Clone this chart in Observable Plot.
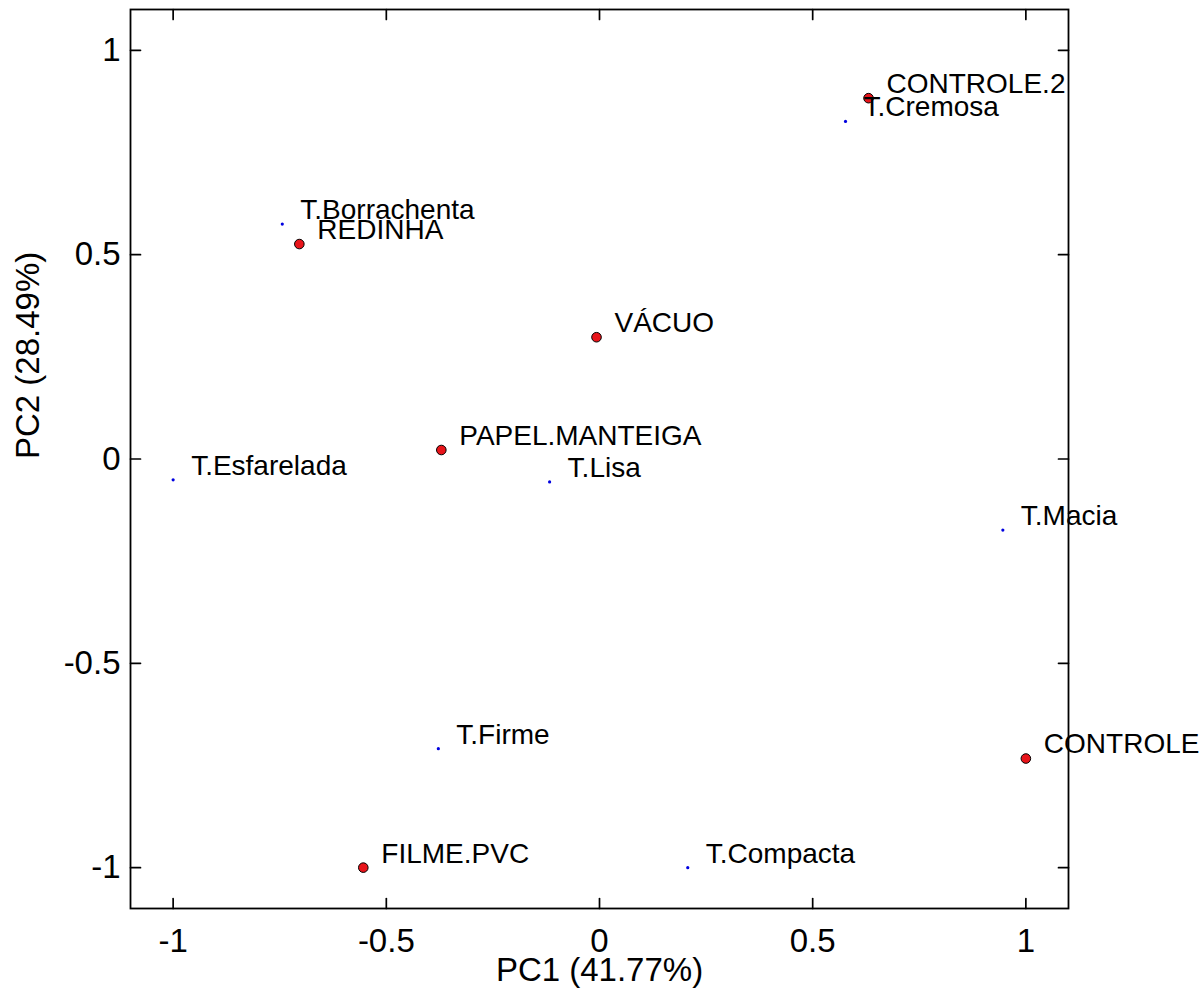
<!DOCTYPE html>
<html>
<head>
<meta charset="utf-8">
<script src="https://cdn.jsdelivr.net/npm/d3@7"></script>
<script src="https://cdn.jsdelivr.net/npm/@observablehq/plot@0.6"></script>
<style>
  html, body { margin: 0; padding: 0; background: #fff; overflow: hidden; }
  svg { overflow: hidden; }
</style>
</head>
<body>
<div id="chart"></div>
<script>
// Samples (red points)
const sampleNames = ["CONTROLE.2", "REDINHA", "VÁCUO", "PAPEL.MANTEIGA", "FILME.PVC", "CONTROLE"];
const sampleX = [0.631, -0.704, -0.007, -0.371, -0.554, 1.0];
const sampleY = [0.883, 0.526, 0.298, 0.022, -1.0, -0.733];

// Attributes (small blue points)
const attrNames = ["T.Cremosa", "T.Borrachenta", "T.Esfarelada", "T.Lisa", "T.Macia", "T.Firme", "T.Compacta"];
const attrX = [0.577, -0.744, -1.0, -0.117, 0.946, -0.378, 0.207];
const attrY = [0.826, 0.575, -0.051, -0.056, -0.174, -0.709, -1.0];

const xTicks = [-1, -0.5, 0, 0.5, 1];
const yTicks = [-1, -0.5, 0, 0.5, 1];
const xTitle = "PC1 (41.77%)";
const yTitle = "PC2 (28.49%)";

const samples = sampleNames.map((n, i) => ({name: n, x: sampleX[i], y: sampleY[i]}));
const attrs = attrNames.map((n, i) => ({name: n, x: attrX[i], y: attrY[i]}));

const lineShape = {draw(context, l) { context.moveTo(0, 0); context.lineTo(0, -l); }};
const tickLen = 10;
const font = "'Liberation Sans', Arial, sans-serif";

const chart = Plot.plot({
  width: 1200,
  height: 1002,
  marginLeft: 130,
  marginRight: 132,
  marginTop: 9,
  marginBottom: 94,
  style: {fontFamily: font, background: "#fff", color: "#000"},
  x: {domain: [-1.1, 1.1]},
  y: {domain: [-1.1, 1.1]},
  marks: [
    Plot.axisX(xTicks, {anchor: "bottom", tickSize: 0, tickPadding: 20, fontSize: 33, tickFormat: d => String(d), label: null}),
    Plot.axisY(yTicks, {anchor: "left", tickSize: 0, tickPadding: 10, fontSize: 33, tickFormat: d => String(d), label: null}),
    // inward ticks on all four sides
    Plot.vector(xTicks, {x: d => d, frameAnchor: "bottom", anchor: "start", length: tickLen, rotate: 0, shape: lineShape, stroke: "#000", strokeWidth: 1.7}),
    Plot.vector(xTicks, {x: d => d, frameAnchor: "top", anchor: "start", length: tickLen, rotate: 180, shape: lineShape, stroke: "#000", strokeWidth: 1.7}),
    Plot.vector(yTicks, {y: d => d, frameAnchor: "left", anchor: "start", length: tickLen, rotate: 90, shape: lineShape, stroke: "#000", strokeWidth: 1.7}),
    Plot.vector(yTicks, {y: d => d, frameAnchor: "right", anchor: "start", length: tickLen, rotate: -90, shape: lineShape, stroke: "#000", strokeWidth: 1.7}),
    Plot.frame({stroke: "#000", strokeWidth: 1.8}),
    Plot.text([xTitle], {frameAnchor: "bottom", dy: 72, fontSize: 33, fill: "#000"}),
    Plot.text([yTitle], {frameAnchor: "left", dx: -102, rotate: -90, fontSize: 33, fill: "#000"}),
    Plot.dot(attrs, {x: "x", y: "y", r: 1.6, fill: "#0000e0", stroke: null}),
    Plot.dot(samples, {x: "x", y: "y", r: 4.8, fill: "#e8141a", stroke: "#000", strokeWidth: 1}),
    Plot.text(samples, {x: "x", y: "y", text: "name", textAnchor: "start", dx: 18, dy: -14, fontSize: 28, fill: "#000"}),
    Plot.text(attrs, {x: "x", y: "y", text: "name", textAnchor: "start", dx: 18, dy: -14, fontSize: 28, fill: "#000"})
  ]
});
document.getElementById("chart").appendChild(chart);
</script>
</body>
</html>
